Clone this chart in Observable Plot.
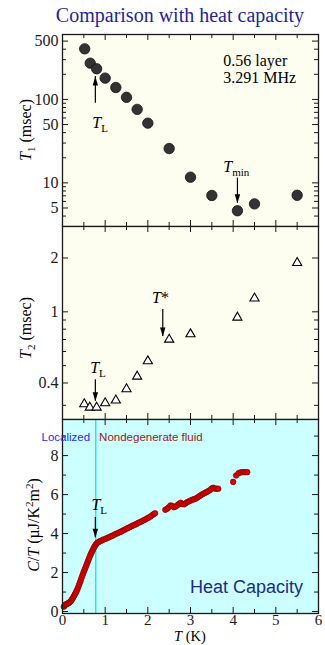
<!DOCTYPE html>
<html><head><meta charset="utf-8">
<script src="https://cdn.jsdelivr.net/npm/d3@7"></script>
<script src="https://cdn.jsdelivr.net/npm/@observablehq/plot@0.6"></script>
<style>
body{margin:0;background:#fff;}
#c{position:relative;width:325px;height:645px;overflow:hidden;background:#fff;}
#c svg{position:absolute;left:0;}
#title{position:absolute;top:5px;left:40px;width:280px;text-align:center;font-family:'Liberation Serif','Times New Roman',serif;font-size:20px;line-height:20px;color:#1f1f9e;white-space:nowrap;}
</style></head>
<body><div id="c"><div id="title">Comparison with heat capacity</div></div>
<script>
// ---- data ----
const t1T = [0.52, 0.65, 0.80, 1.0, 1.25, 1.5, 1.75, 2.0, 2.5, 3.0, 3.5, 4.1, 4.5, 5.5];
const t1V = [404, 272, 233, 180, 139, 106, 76, 52, 25.8, 11.7, 7.06, 4.63, 5.6, 7.1];
const t2T = [0.51, 0.64, 0.80, 1.0, 1.25, 1.5, 1.75, 2.0, 2.5, 3.0, 4.1, 4.5, 5.5];
const t2V = [0.305, 0.292, 0.292, 0.309, 0.32, 0.37, 0.435, 0.53, 0.70, 0.75, 0.93, 1.19, 1.88];
const cT = [0.03,0.05,0.07,0.09,0.11,0.13,0.15,0.17,0.19,0.21,0.23,0.25,0.27,0.29,0.31,0.33,0.35,0.37,0.39,0.41,0.43,0.45,0.47,0.49,0.51,0.53,0.55,0.57,0.59,0.61,0.63,0.65,0.67,0.69,0.71,0.73,0.75,0.77,0.79,0.81,0.84,0.87,0.9,0.94,0.98,1.02,1.06,1.1,1.14,1.18,1.22,1.26,1.3,1.34,1.38,1.42,1.46,1.5,1.54,1.58,1.62,1.66,1.7,1.74,1.78,1.82,1.86,1.9,1.94,1.98,2.02,2.06,2.1,2.14,2.17,
  2.41,2.45,2.49,2.53,2.57,2.61,2.65,2.69,2.73,2.77,2.81,2.85,2.89,2.93,2.97,3.01,3.05,3.09,3.13,3.17,3.21,3.25,3.29,3.33,3.37,3.41,3.45,3.49,3.53,3.57,3.61,3.65,
  4.0,4.07,4.13,4.18,4.23,4.28,4.33];
const cV = [0.25,0.3,0.35,0.38,0.4,0.42,0.45,0.48,0.52,0.58,0.65,0.72,0.8,0.88,0.96,1.05,1.15,1.26,1.38,1.5,1.62,1.75,1.87,1.99,2.1,2.21,2.32,2.43,2.55,2.66,2.77,2.88,2.98,3.07,3.16,3.25,3.33,3.4,3.46,3.51,3.56,3.6,3.63,3.67,3.71,3.74,3.78,3.82,3.86,3.9,3.95,3.99,4.03,4.07,4.11,4.16,4.2,4.25,4.29,4.33,4.38,4.42,4.46,4.5,4.55,4.59,4.63,4.68,4.72,4.77,4.82,4.87,4.94,5.0,5.04,
  5.22,5.27,5.35,5.44,5.42,5.35,5.38,5.45,5.52,5.58,5.52,5.5,5.56,5.62,5.66,5.7,5.74,5.77,5.8,5.86,5.92,5.98,6.03,6.08,6.12,6.17,6.22,6.3,6.35,6.31,6.3,6.3,
  6.65,6.98,7.1,7.14,7.15,7.15,7.15];
const xMajor = [1, 2, 3, 4, 5];
const xMinor = [0.5, 1.5, 2.5, 3.5, 4.5, 5.5];
const xLabels = [0, 1, 2, 3, 4, 5, 6];
const y1Labels = [5, 10, 50, 100, 500];
const y1Minor = [3, 4, 6, 7, 8, 9, 20, 30, 40, 60, 70, 80, 90, 200, 300, 400, 600];
const y2Labels = [0.4, 1, 2];
const y2Minor = [0.3, 0.5, 0.6, 0.7, 0.8, 0.9, 3];
const y3Labels = [0, 2, 4, 6, 8];
const y3Minor = [1, 3, 5, 7, 9];
const tLoc = 0.78;

const serif = "'Liberation Serif','Times New Roman',serif";
const sans = "'Liberation Sans',Arial,sans-serif";
const ink = "#1a1a1a";
const W = 325, ML = 62, MR = 7, FW = W - ML - MR;

const t1 = t1T.map((t, i) => ({t, v: t1V[i]}));
const t2 = t2T.map((t, i) => ({t, v: t2V[i]}));
const cv = cT.map((t, i) => ({t, v: cV[i]}));

const headUp = {draw(ctx) { ctx.moveTo(0, 0); ctx.lineTo(2.7, 9); ctx.lineTo(-2.7, 9); ctx.closePath(); }};

function ticks(fh, yMaj, yMin) {
  return [
    Plot.ruleX(xMajor, {insetTop: fh - 6, stroke: ink}),
    Plot.ruleX(xMajor, {insetBottom: fh - 6, stroke: ink}),
    Plot.ruleX(xMinor, {insetTop: fh - 4, stroke: ink}),
    Plot.ruleX(xMinor, {insetBottom: fh - 4, stroke: ink}),
    Plot.ruleY(yMaj, {insetRight: FW - 6, stroke: ink}),
    Plot.ruleY(yMaj, {insetLeft: FW - 6, stroke: ink}),
    Plot.ruleY(yMin, {insetRight: FW - 4, stroke: ink}),
    Plot.ruleY(yMin, {insetLeft: FW - 4, stroke: ink})
  ];
}
function yLabels(vals) {
  return Plot.text(vals, {y: d => d, text: d => String(d), frameAnchor: "left", textAnchor: "end", dx: -4, fill: ink});
}
function arrow(a) {
  return [
    Plot.ruleX([a], {x: "t", y1: "from", y2: "to", stroke: "#000", strokeWidth: 1.2}),
    Plot.dot([a], {x: "t", y: "to", symbol: headUp, r: 1, fill: "#000", stroke: "none", rotate: a.down ? 180 : 0})
  ];
}
function rich(svg, x, y, parts, opt = {}) {
  const t = d3.select(svg).append("text")
    .attr("x", x).attr("y", y)
    .attr("text-anchor", opt.anchor || "start")
    .attr("font-family", opt.family || serif)
    .attr("font-size", opt.size || 16)
    .attr("fill", opt.fill || "#000");
  if (opt.transform) t.attr("transform", opt.transform);
  let shift = 0;
  for (const p of parts) {
    const s = t.append("tspan").text(p.t);
    if (p.i) s.attr("font-style", "italic");
    const target = p.sub ? 4 : p.sup ? -6 : 0;
    if (target !== shift) { s.attr("dy", target - shift); shift = target; }
    if (p.sub || p.sup) s.attr("font-size", opt.smallSize || 11);
  }
  return t;
}
function at(fig, t, v) { return [fig.scale("x").apply(t), fig.scale("y").apply(v)]; }
const style = {fontFamily: serif, fontSize: "16px", background: "transparent", overflow: "visible", color: ink};
const c = document.getElementById("c");

// ---- panel 1 ----
const fig1 = Plot.plot({
  width: W, height: 230, marginTop: 34, marginBottom: 4, marginLeft: ML, marginRight: MR, style,
  x: {domain: [0, 6], axis: null},
  y: {type: "log", domain: [3, 600], axis: null},
  marks: [
    Plot.frame({fill: "#fefef0", stroke: "none"}),
    ...ticks(192, y1Labels, y1Minor),
    yLabels(y1Labels),
    Plot.dot(t1, {x: "t", y: "v", r: 5.2, fill: "#333", stroke: "#111", strokeWidth: 0.8}),
    ...arrow({t: 0.77, from: 90, to: 188}),
    ...arrow({t: 4.1, from: 11.4, to: 5.7, down: true}),
    Plot.frame({stroke: ink, strokeWidth: 1.3})
  ]
});
fig1.style.top = "0px";
c.appendChild(fig1);
rich(fig1, ...at(fig1, 3.78, 248), [{t: "0.56 layer"}]);
rich(fig1, ...at(fig1, 3.78, 155), [{t: "3.291 MHz"}]);
rich(fig1, ...at(fig1, 0.71, 45), [{t: "T", i: 1}, {t: "L", sub: 1}]);
rich(fig1, ...at(fig1, 3.78, 13.4), [{t: "T", i: 1}, {t: "min", sub: 1}]);
rich(fig1, 0, 0, [{t: "T", i: 1}, {t: "1", sub: 1}, {t: " (msec)"}], {anchor: "middle", transform: "translate(31,130) rotate(-90)"});

// ---- panel 2 ----
const fig2 = Plot.plot({
  width: W, height: 201, marginTop: 4, marginBottom: 4, marginLeft: ML, marginRight: MR, style,
  x: {domain: [0, 6], axis: null},
  y: {type: "log", domain: [0.25, 3], axis: null},
  marks: [
    Plot.frame({fill: "#fefef0", stroke: "none"}),
    ...ticks(193, y2Labels, y2Minor),
    yLabels(y2Labels),
    Plot.dot(t2, {x: "t", y: "v", r: 3.4, symbol: "triangle", fill: "#fff", stroke: "#000", strokeWidth: 1.1}),
    ...arrow({t: 2.35, from: 1.03, to: 0.728, down: true}),
    ...arrow({t: 0.77, from: 0.417, to: 0.316, down: true}),
    Plot.frame({stroke: ink, strokeWidth: 1.3})
  ]
});
fig2.style.top = "222px";
c.appendChild(fig2);
rich(fig2, ...at(fig2, 2.11, 1.12), [{t: "T", i: 1}, {t: "*"}]);
rich(fig2, ...at(fig2, 0.66, 0.45), [{t: "T", i: 1}, {t: "L", sub: 1}]);
rich(fig2, 0, 0, [{t: "T", i: 1}, {t: "2", sub: 1}, {t: " (msec)"}], {anchor: "middle", transform: "translate(31,106) rotate(-90)"});

// ---- panel 3 ----
const fig3 = Plot.plot({
  width: W, height: 230, marginTop: 4, marginBottom: 32, marginLeft: ML, marginRight: MR, style,
  x: {domain: [0, 6]},
  y: {domain: [-0.1, 9.85], axis: null},
  marks: [
    Plot.frame({fill: "#ccffff", stroke: "none"}),
    ...ticks(194, y3Labels, y3Minor),
    Plot.ruleX([tLoc], {stroke: "#11e4f0", strokeWidth: 1.3}),
    yLabels(y3Labels),
    Plot.axisX(xLabels, {tickSize: 0, tickPadding: 1, label: null, fill: ink, fontSize: 15}),
    Plot.dot(cv, {x: "t", y: "v", r: 2.8, fill: "#dd0000", stroke: "#8a0000", strokeWidth: 0.7}),
    ...arrow({t: 0.77, from: 4.82, to: 3.79, down: true}),
    Plot.frame({stroke: ink, strokeWidth: 1.3})
  ]
});
fig3.style.top = "415px";
c.appendChild(fig3);
rich(fig3, ...at(fig3, 0.66, 8.72), [{t: "Localized"}], {anchor: "end", family: sans, size: 11.5, fill: "#2a2aff"});
rich(fig3, ...at(fig3, 0.87, 8.72), [{t: "Nondegenerate fluid"}], {family: sans, size: 11.5, fill: "#9b2020"});
rich(fig3, ...at(fig3, 3.0, 0.92), [{t: "Heat Capacity"}], {family: sans, size: 18, fill: "#1c2a8c"});
rich(fig3, ...at(fig3, 0.69, 5.16), [{t: "T", i: 1}, {t: "L", sub: 1}]);
rich(fig3, 0, 0, [{t: "C", i: 1}, {t: "/"}, {t: "T", i: 1}, {t: " (µJ/K"}, {t: "2", sup: 1}, {t: "m"}, {t: "2", sup: 1}, {t: ")"}], {anchor: "middle", transform: "translate(39,110) rotate(-90)"});
rich(fig3, 190, 226, [{t: "T", i: 1}, {t: " (K)"}], {anchor: "middle", size: 14.5});
</script>
</body></html>
